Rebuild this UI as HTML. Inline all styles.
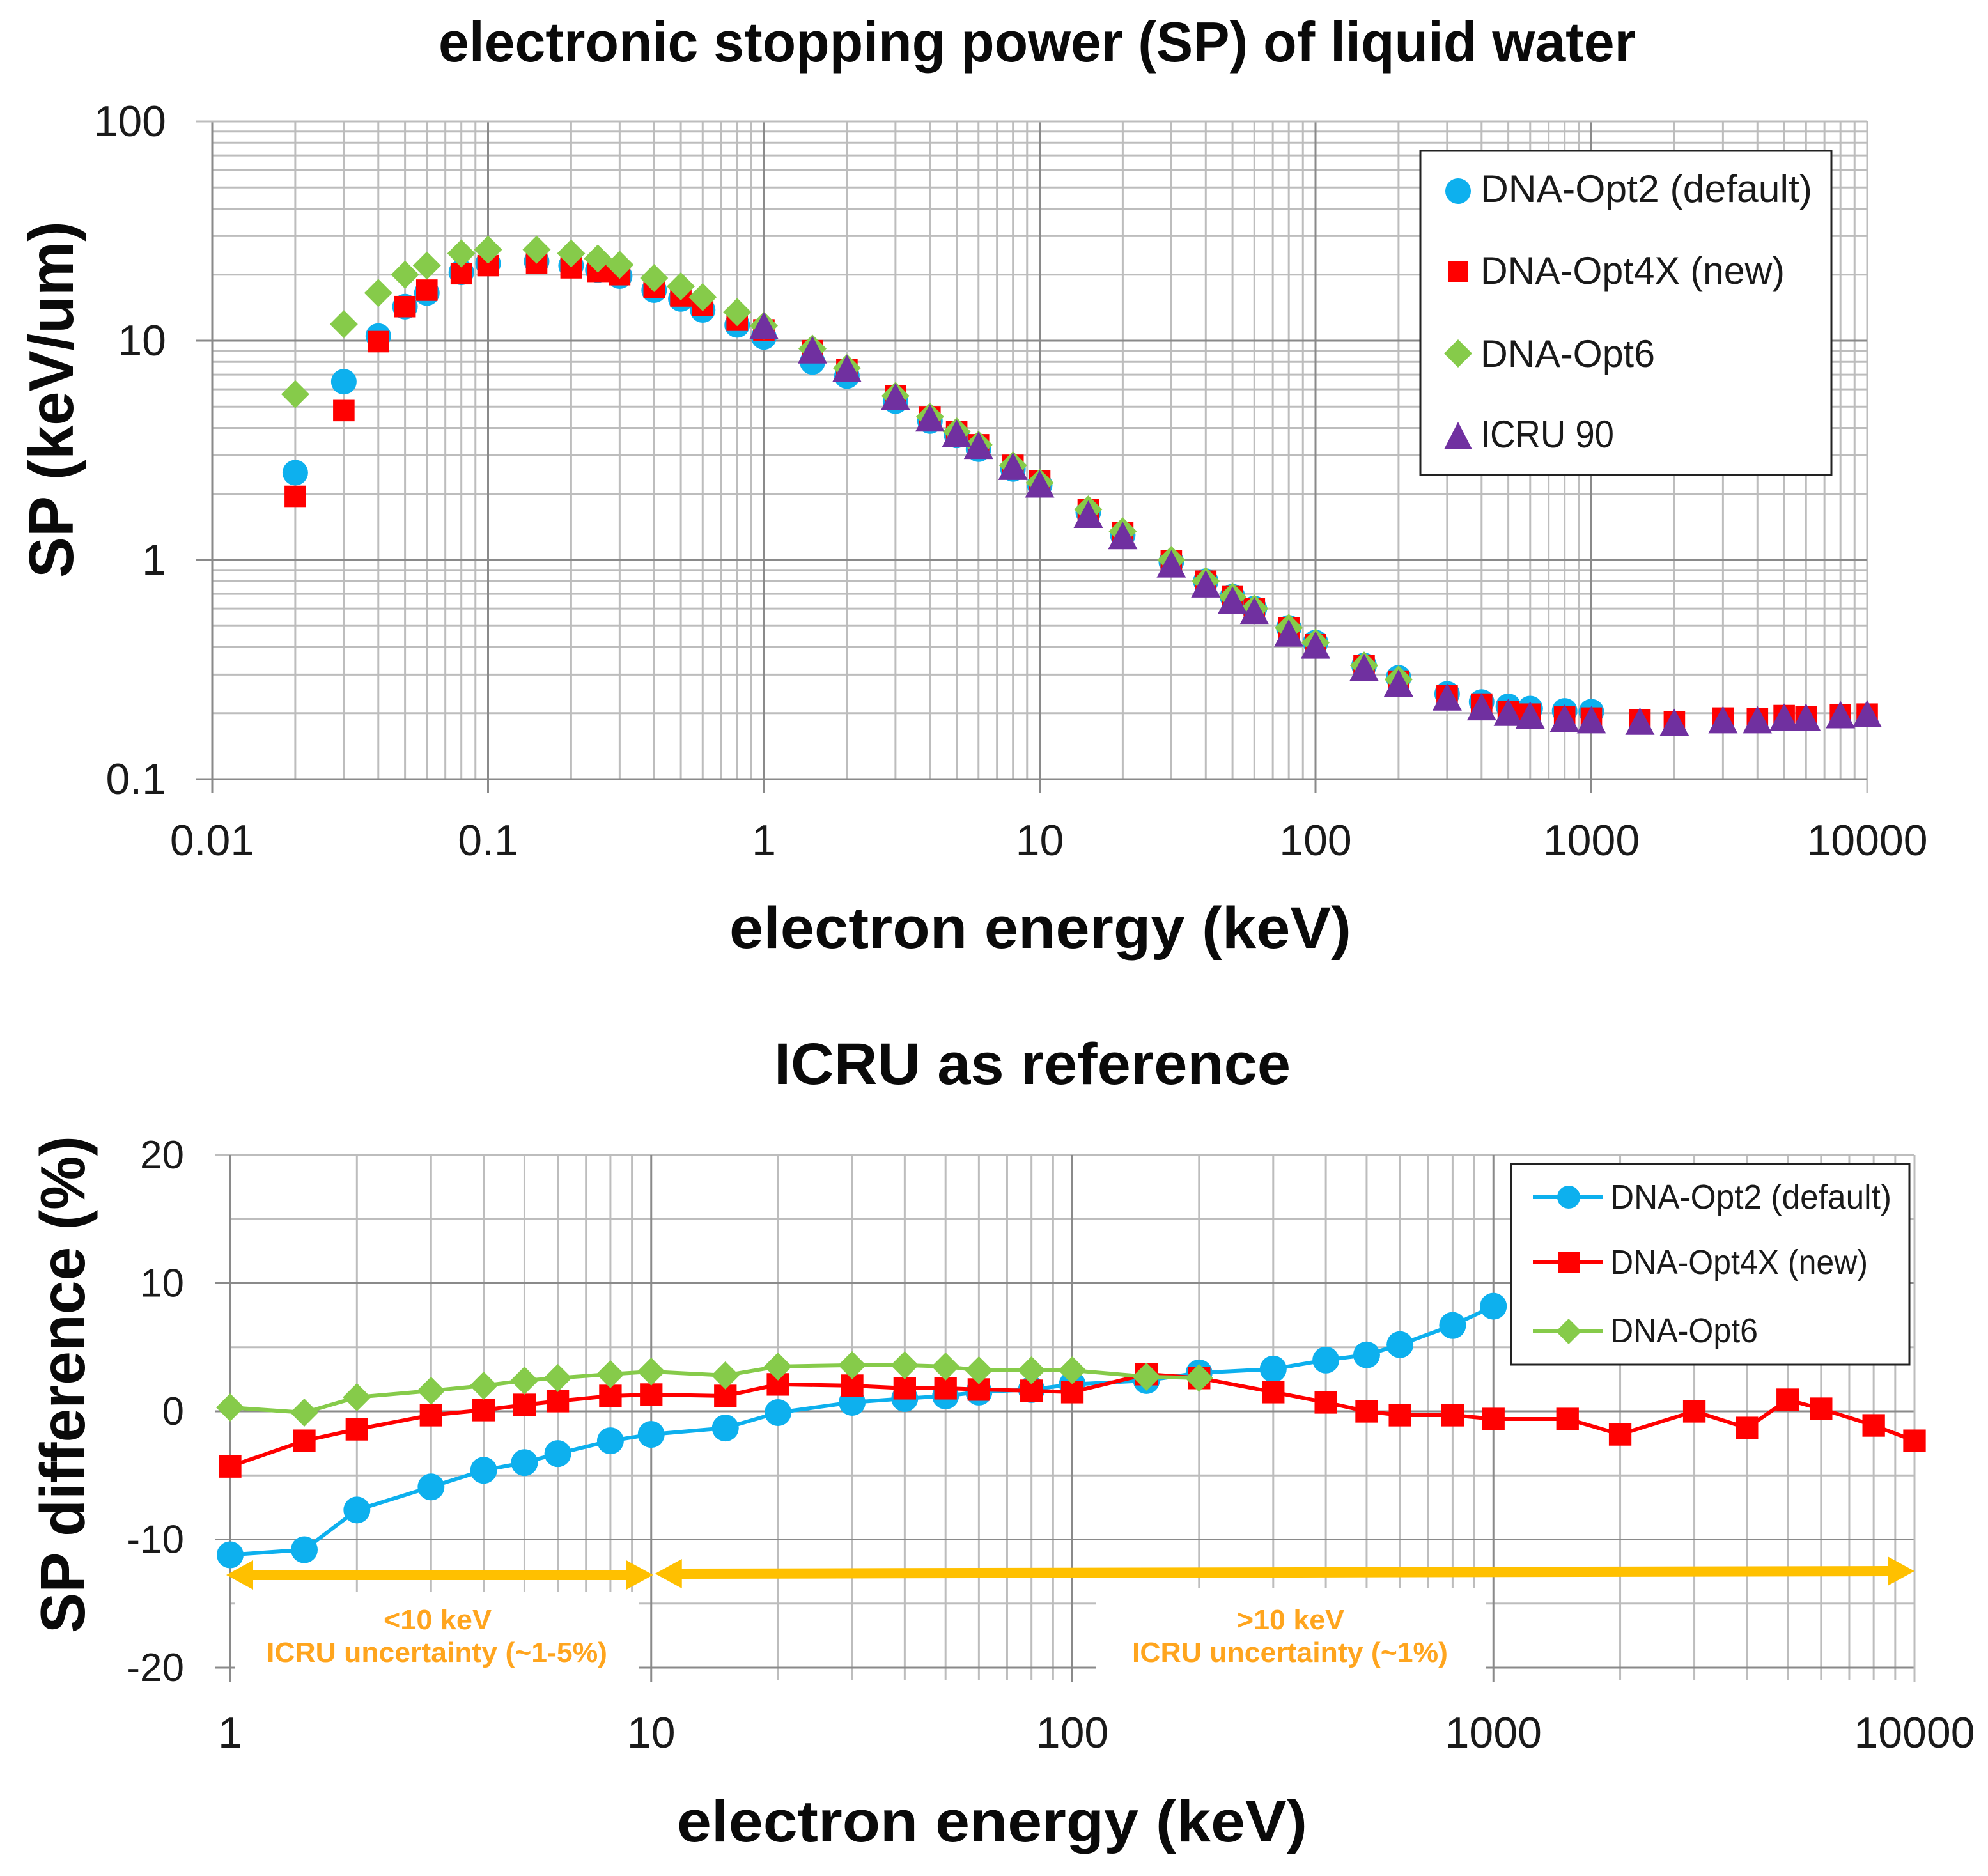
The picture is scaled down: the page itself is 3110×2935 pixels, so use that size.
<!DOCTYPE html>
<html lang="en">
<head>
<meta charset="utf-8">
<title>Electronic stopping power of liquid water</title>
<style>
html,body{margin:0;padding:0;background:#fff;width:3110px;height:2935px;overflow:hidden}
svg{display:block}
text{font-family:"Liberation Sans",sans-serif;fill:#1a1a1a}
.t{font-weight:bold;fill:#0a0a0a}
</style>
</head>
<body>
<svg id="fig" xmlns="http://www.w3.org/2000/svg" width="3110" height="2935" viewBox="0 0 3110 2935">
<rect x="0" y="0" width="3110" height="2935" fill="#fff"/>
<g id="top-chart"></g>
<g id="bottom-chart"></g>

<text class="t" x="686" y="96" font-size="88" textLength="1873" lengthAdjust="spacingAndGlyphs">electronic stopping power (SP) of liquid water</text>
<text class="t" x="1141" y="1483" font-size="92" textLength="973" lengthAdjust="spacingAndGlyphs">electron energy (keV)</text>
<text class="t" transform="translate(114,904) rotate(-90)" font-size="98" textLength="558" lengthAdjust="spacingAndGlyphs">SP (keV/um)</text>

<text class="t" x="1211" y="1696" font-size="92" textLength="808" lengthAdjust="spacingAndGlyphs">ICRU as reference</text>
<text class="t" x="1059" y="2881" font-size="92" textLength="986" lengthAdjust="spacingAndGlyphs">electron energy (keV)</text>
<text class="t" transform="translate(132,2555) rotate(-90)" font-size="98" textLength="778" lengthAdjust="spacingAndGlyphs">SP difference (%)</text>

<g>
  <rect x="2222" y="236" width="643" height="507" fill="#fff" stroke="#222" stroke-width="3"/>
  <circle cx="2281" cy="299" r="20" fill="#0DB0EE"/>
  <text x="2316" y="316" font-size="60" textLength="519" lengthAdjust="spacingAndGlyphs">DNA-Opt2 (default)</text>
  <rect x="2265" y="409" width="32" height="32" fill="#FF0000"/>
  <text x="2316" y="444" font-size="60" textLength="476" lengthAdjust="spacingAndGlyphs">DNA-Opt4X (new)</text>
  <polygon points="2281,531 2303,553 2281,575 2259,553" fill="#86CB4A"/>
  <text x="2316" y="574" font-size="60" textLength="273" lengthAdjust="spacingAndGlyphs">DNA-Opt6</text>
  <polygon points="2281,660 2303,703 2259,703" fill="#7030A0"/>
  <text x="2316" y="700" font-size="60" textLength="209" lengthAdjust="spacingAndGlyphs">ICRU 90</text>
</g>

<g>
  <rect x="2364" y="1821" width="623" height="314" fill="#fff" stroke="#222" stroke-width="3"/>
  <line x1="2398" y1="1873" x2="2507" y2="1873" stroke="#0DB0EE" stroke-width="6"/>
  <circle cx="2454" cy="1873" r="18" fill="#0DB0EE"/>
  <text x="2519" y="1891" font-size="54" textLength="440" lengthAdjust="spacingAndGlyphs">DNA-Opt2 (default)</text>
  <line x1="2398" y1="1975" x2="2507" y2="1975" stroke="#FF0000" stroke-width="6"/>
  <rect x="2438" y="1959" width="33" height="32" fill="#FF0000"/>
  <text x="2519" y="1993" font-size="54" textLength="403" lengthAdjust="spacingAndGlyphs">DNA-Opt4X (new)</text>
  <line x1="2398" y1="2083" x2="2507" y2="2083" stroke="#86CB4A" stroke-width="6"/>
  <polygon points="2454,2063 2474,2083 2454,2103 2434,2083" fill="#86CB4A"/>
  <text x="2519" y="2100" font-size="54" textLength="231" lengthAdjust="spacingAndGlyphs">DNA-Opt6</text>
</g>
</svg>

<script>
// ---------- top chart data ----------
const topEnergy = [0.02,0.03,0.04,0.05,0.06,0.08,0.1,0.15,0.2,0.25,0.3,0.4,0.5,0.6,0.8,1,1.5,2,3,4,5,6,8,10,15,20,30,40,50,60,80,100,150,200,300,400,500,600,800,1000,1500,2000,3000,4000,5000,6000,8000,10000];
const topOpt2 = [2.5,6.5,10.5,14.3,16.5,20.5,22.5,23,22,21,19.7,17,15.5,13.8,11.8,10.4,8,6.9,5.3,4.3,3.7,3.2,2.6,2.2,1.65,1.3,0.98,0.8,0.68,0.6,0.49,0.42,0.33,0.29,0.245,0.225,0.215,0.21,0.205,0.203];
const topOpt4X = [1.95,4.8,9.9,14.3,17,20.2,22,22.5,21.5,20.7,20,17.5,16,14.5,12.4,11.2,9,7.4,5.6,4.5,3.85,3.35,2.7,2.3,1.7,1.33,0.99,0.8,0.68,0.6,0.49,0.41,0.33,0.28,0.24,0.22,0.203,0.198,0.192,0.19,0.186,0.183,0.19,0.189,0.195,0.193,0.196,0.198];
const topOpt6 = [5.7,11.9,16.5,20,22,25,26,26,25,23.7,22.2,19.3,17.7,15.8,13.5,11.7,9.2,7.5,5.6,4.5,3.85,3.35,2.7,2.25,1.7,1.35,1,0.8,0.68,0.6,0.49,0.42,0.33,0.285];
const icruEnergy = [1,1.5,2,3,4,5,6,8,10,15,20,30,40,50,60,80,100,150,200,300,400,500,600,800,1000,1500,2000,3000,4000,5000,6000,8000,10000];
const topIcru = [11.6,9,7.4,5.5,4.4,3.75,3.3,2.65,2.2,1.6,1.28,0.95,0.77,0.65,0.58,0.46,0.405,0.32,0.272,0.235,0.212,0.2,0.194,0.188,0.185,0.182,0.18,0.185,0.185,0.19,0.19,0.195,0.197];
const topXTicks = ["0.01","0.1","1","10","100","1000","10000"];
const topYTicks = ["100","10","1","0.1"];

// ---------- bottom chart data ----------
const diffEnergy = [1,1.5,2,3,4,5,6,8,10,15,20,30,40,50,60,80,100,150,200,300,400,500,600,800,1000,1500,2000,3000,4000,5000,6000,8000,10000];
const diffOpt2 = [-11.2,-10.8,-7.7,-5.9,-4.6,-4,-3.3,-2.3,-1.8,-1.3,-0.1,0.7,1,1.2,1.5,1.7,2.1,2.4,3,3.3,4,4.4,5.2,6.7,8.2];
const diffOpt4X = [-4.3,-2.3,-1.4,-0.3,0.1,0.5,0.8,1.2,1.3,1.2,2.1,2,1.8,1.8,1.7,1.6,1.5,2.9,2.6,1.5,0.7,0,-0.3,-0.3,-0.6,-0.6,-1.8,0,-1.3,0.9,0.2,-1.1,-2.3];
const diffOpt6 = [0.3,-0.1,1.1,1.6,2,2.4,2.6,2.9,3.1,2.8,3.5,3.6,3.6,3.5,3.2,3.2,3.2,2.7,2.6];
const diffXTicks = ["1","10","100","1000","10000"];
const diffYTicks = ["20","10","0","-10","-20"];

const NS = "http://www.w3.org/2000/svg";
const MINOR = "#BDBDBD", MAJOR = "#8A8A8A";
const BLUE = "#0DB0EE", RED = "#FF0000", GREEN = "#86CB4A", PURPLE = "#7030A0", AMBER = "#FFC000", ORANGE = "#FFA51E";

function mk(tag, parent, attrs) {
  const el = document.createElementNS(NS, tag);
  for (const k in attrs) el.setAttribute(k, attrs[k]);
  parent.appendChild(el);
  return el;
}
function gridLine(parent, x1, y1, x2, y2, color, name) {
  const el = mk("line", parent, {x1, y1, x2, y2, stroke: color, "stroke-width": 3});
  
  
}
function label(parent, str, x, y, size, anchor, name, extra) {
  const el = mk("text", parent, Object.assign({x, y, "font-size": size, "text-anchor": anchor}, extra || {}));
  el.textContent = str;
  
  
  return el;
}
function marker(parent, kind, cx, cy, color, r, name) {
  let el;
  if (kind === "circle") {
    el = mk("circle", parent, {cx, cy, r, fill: color});
  } else if (kind === "square") {
    const s = r * 0.84;
    el = mk("rect", parent, {x: cx - s, y: cy - s, width: 2 * s, height: 2 * s, fill: color});
  } else if (kind === "diamond") {
    el = mk("polygon", parent, {points: `${cx},${cy - r} ${cx + r},${cy} ${cx},${cy + r} ${cx - r},${cy}`, fill: color});
  } else {
    el = mk("polygon", parent, {points: `${cx},${cy - r - 2} ${cx + r + 2},${cy + r - 1} ${cx - r - 2},${cy + r - 1}`, fill: color});
  }
  
  
}

// ---------- top chart ----------
const top_ = document.getElementById("top-chart");
const tL = 332, tR = 2921, tT = 190, tB = 1219;
const tx = v => tL + (Math.log10(v) + 2) * (tR - tL) / 6;
const ty = v => tB - (Math.log10(v) + 1) * (tB - tT) / 3;

for (let d = -2; d < 4; d++) for (let m = 2; m <= 9; m++) {
  const x = tx(m * Math.pow(10, d));
  gridLine(top_, x, tT, x, tB, MINOR, "top-x-minor-gridline");
}
for (let d = -1; d < 2; d++) for (let m = 2; m <= 9; m++) {
  const y = ty(m * Math.pow(10, d));
  gridLine(top_, tL, y, tR, y, MINOR, "top-y-minor-gridline");
}
topXTicks.forEach((t, i) => {
  const x = tx(parseFloat(t));
  gridLine(top_, x, tT, x, tB + 22, i === topXTicks.length - 1 ? MINOR : MAJOR, "top-x-major-gridline");
  label(top_, t, x, 1338, 68, "middle", "top-x-tick-label");
});
topYTicks.forEach((t, i) => {
  const y = ty(parseFloat(t));
  gridLine(top_, tL - 25, y, tR, y, i === 0 ? MINOR : MAJOR, "top-y-major-gridline");
  label(top_, t, 260, y + 23, 68, "end", "top-y-tick-label");
});
topOpt2.forEach((v, i) => marker(top_, "circle", tx(topEnergy[i]), ty(v), BLUE, 20, "opt2-point"));
topOpt4X.forEach((v, i) => marker(top_, "square", tx(topEnergy[i]), ty(v), RED, 20, "opt4x-point"));
topOpt6.forEach((v, i) => marker(top_, "diamond", tx(topEnergy[i]), ty(v), GREEN, 22, "opt6-point"));
topIcru.forEach((v, i) => marker(top_, "triangle", tx(icruEnergy[i]), ty(v), PURPLE, 21, "icru-point"));

// ---------- bottom chart ----------
const bot = document.getElementById("bottom-chart");
const bL = 360, bR = 2995, bT = 1807, bB = 2609;
const bx = v => bL + Math.log10(v) * (bR - bL) / 4;
const by = v => bB - (v + 20) * (bB - bT) / 40;

for (let d = 0; d < 4; d++) for (let m = 2; m <= 9; m++) {
  const x = bx(m * Math.pow(10, d));
  gridLine(bot, x, bT, x, bB + 20, MINOR, "bottom-x-minor-gridline");
}
[15, 5, -5, -15].forEach(v => gridLine(bot, bL, by(v), bR, by(v), MINOR, "bottom-y-minor-gridline"));
diffYTicks.forEach((t, i) => {
  const y = by(parseFloat(t));
  gridLine(bot, bL - 23, y, bR, y, i === 0 ? MINOR : MAJOR, "bottom-y-major-gridline");
  label(bot, t, 288, y + 21, 62, "end", "bottom-y-tick-label");
});
diffXTicks.forEach((t, i) => {
  const x = bx(parseFloat(t));
  gridLine(bot, x, bT, x, bB + 22, i === diffXTicks.length - 1 ? MINOR : MAJOR, "bottom-x-major-gridline");
  label(bot, t, x, 2734, 68, "middle", "bottom-x-tick-label");
});

// white annotation panels that mask the grid
const panelL = mk("rect", bot, {x: bL + 7, y: 2490, width: bx(10) - bL - 26, height: 150, fill: "#fff"});


const panelR = mk("rect", bot, {x: bx(100) + 37, y: 2485, width: 610, height: 155, fill: "#fff"});



function series(values, kind, color, r, width, name) {
  const pts = values.map((v, i) => bx(diffEnergy[i]) + "," + by(v)).join(" ");
  const line = mk("polyline", bot, {points: pts, fill: "none", stroke: color, "stroke-width": width});
  
  
  values.forEach((v, i) => marker(bot, kind, bx(diffEnergy[i]), by(v), color, r, name + '-point'));
}
series(diffOpt2, "circle", BLUE, 21, 6, "diff-opt2");
series(diffOpt4X, "square", RED, 21, 6, "diff-opt4x");
series(diffOpt6, "diamond", GREEN, 22, 6, "diff-opt6");

// range arrows
function arrow(x1, y1, x2, y2, name) {
  const hl = 42, hh = 23, sh = 8;
  const pts = [[x1, y1], [x1 + hl, y1 - hh], [x1 + hl, y1 - sh],
    [x2 - hl, y2 - sh], [x2 - hl, y2 - hh], [x2, y2], [x2 - hl, y2 + hh], [x2 - hl, y2 + sh],
    [x1 + hl, y1 + sh], [x1 + hl, y1 + hh]];
  const el = mk("polygon", bot, {points: pts.map(p => p.join(",")).join(" "), fill: AMBER});
  
  
}
arrow(bx(1) - 6, 2464, bx(10) + 3, 2464, "low-energy-range-arrow");
arrow(bx(10) + 6, 2462, bx(10000), 2458, "high-energy-range-arrow");

function note(str, x, y, len, name) {
  const el = label(bot, str, x, y, 44, "start", name, {"font-weight": "bold", textLength: len, lengthAdjust: "spacingAndGlyphs"});
  el.style.fill = ORANGE;
}
note("<10 keV", 600, 2549, 169, "low-energy-note-title");
note("ICRU uncertainty (~1-5%)", 417, 2600, 533, "low-energy-note-detail");
note(">10 keV", 1935, 2549, 168, "high-energy-note-title");
note("ICRU uncertainty (~1%)", 1771, 2600, 494, "high-energy-note-detail");
</script>
</body>
</html>
